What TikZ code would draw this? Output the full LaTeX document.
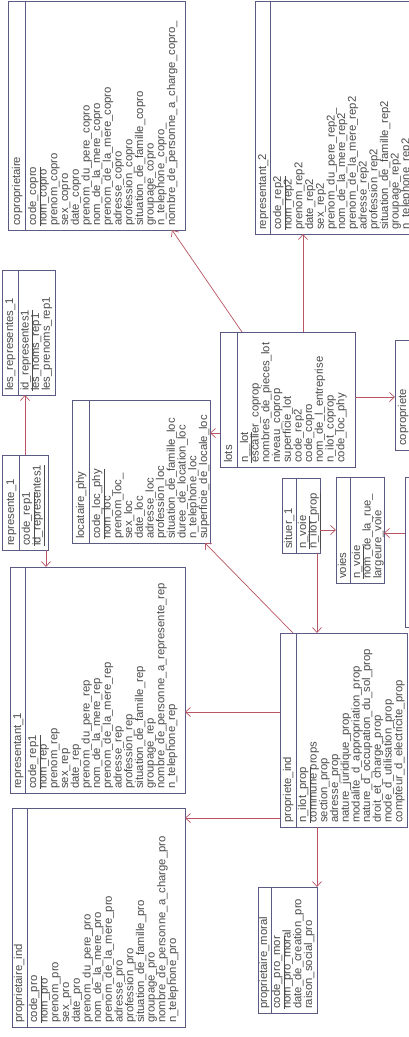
\documentclass[tikz,border=0pt]{standalone}
\usepackage{fontspec}
\setmainfont{Liberation Sans}
\usetikzlibrary{arrows.meta,calc}
\definecolor{boxline}{RGB}{90,90,130}
\definecolor{link}{RGB}{185,85,100}
\definecolor{txt}{RGB}{75,75,75}

\tikzset{
  cls/.style={draw=boxline, line width=0.8pt, fill=white, inner sep=0pt, outer sep=0pt},
  lbl/.style={rotate=90, anchor=base west, inner sep=0pt, text=txt,
              font=\fontsize{11.3}{12}\selectfont},
  rel/.style={draw=link, line width=0.7pt, -{Straight Barb[length=5pt,width=9pt]}},
}

% class frame: #1 name, #2 left, #3 top, #4 right, #5 bottom, #6 divider x, #7 title x, #8 title
\newcommand\classframe[8]{%
  \node[cls, minimum width={#4-#2}, minimum height={#5-#3}]
       (#1) at ({(#2+#4)/2},{(#3+#5)/2}) {};
  \draw[boxline, line width=0.8pt] (#6,#3) -- (#6,#5);
  \node[lbl] (#1-title) at ({#7+3},{#5-4}) {#8};
}
% attribute column: #1 name, #2 first x, #3 bottom, #4 list
\newcommand\attrlist[4]{%
  \foreach \a [count=\i from 0] in {#4} {
    \node[lbl] (#1-\i) at ({#2+3+\i*10.7},{#3-4}) {\a};
  }
}

\begin{document}
\begin{tikzpicture}[x=1pt,y=-1pt]
\fill[white] (0,0) rectangle (409,1037);
\useasboundingbox (0,0) rectangle (409,1037);
\clip (0,0) rectangle (409,1037);

% coproprietaire
\classframe{copro}{8}{1}{185}{230}{25}{17}{coproprietaire}
\attrlist{copro}{33}{230}{\underline{code\_copro}, nom\_copro, prenom\_copro, sex\_copro, date\_copro,
  prenom\_du\_pere\_copro, nom\_de\_la\_mere\_copro, prenom\_de\_la\_mere\_copro, adresse\_copro,
  profession\_copro, situation\_de\_famille\_copro, groupage\_copro, n\_telephone\_copro\_,
  nombre\_de\_personne\_a\_charge\_copro\_}

% representant_2
\classframe{rep2}{255}{1}{415}{234}{270}{263}{representant\_2}
\attrlist{rep2}{278}{234}{\underline{code\_rep2}, nom\_rep2, prenom\_rep2, date\_rep2, sex\_rep2,
  prenom\_du\_pere\_rep2\_, nom\_de\_la\_mere\_rep2, prenom\_de\_la\_mere\_rep2, adresse\_rep2,
  profession\_rep2, situation\_de\_famille\_rep2, groupage\_rep2, n\_telephone\_rep2}

% les_representes_1
\classframe{lesrep}{2}{270}{55}{395}{18}{10}{les\_representes\_1}
\attrlist{lesrep}{25.5}{395}{\underline{id\_representes1}, les\_noms\_rep1, les\_prenoms\_rep1}

% represente_1
\classframe{repr1}{2}{455}{48}{550}{19}{11}{represente\_1}
\attrlist{repr1}{27}{550}{\underline{code\_rep1}, \underline{id\_representes1}}

% locataire_phy
\classframe{loc}{72}{400}{210}{543}{89}{81}{locataire\_phy}
\attrlist{loc}{97}{543}{\underline{code\_loc\_phy}, nom\_loc\_, prenom\_loc\_, sex\_loc, date\_loc,
  adresse\_loc, profession\_loc, situation\_de\_famille\_loc, duree\_de\_location\_loc,
  n\_telephone\_loc, superficie\_de\_locale\_loc}

% lots
\classframe{lots}{220}{332}{355}{467}{237}{229}{lots}
\attrlist{lots}{245}{467}{\underline{n\_\_lot}, escalier\_coprop, nombres\_de\_pieces\_lot,
  niveau\_coprop, superficie\_lot, code\_rep2, code\_copro, nom\_de\_l\_entreprise,
  n\_ilot\_coprop, code\_loc\_phy}

% copropriete
\classframe{copte}{395}{340}{440}{450}{411}{403}{copropriete}

% situer_1
\classframe{situer}{282}{478}{320}{553}{296}{289}{situer\_1}
\attrlist{situer}{303}{553}{\underline{n\_voie}, \underline{n\_ilot\_prop}}

% voies
\classframe{voies}{336}{477}{384}{583}{350}{343}{voies}
\attrlist{voies}{357}{583}{\underline{n\_voie}, nom\_de\_la\_rue\_, largeure\_voie}

% class lying past the right edge
\node[cls, minimum width=70, minimum height=150] (edge) at (440,552) {};

% representant_1
\classframe{rep1}{10}{567}{185}{793}{25}{18}{representant\_1}
\attrlist{rep1}{33}{793}{\underline{code\_rep1}, nom\_rep, prenom\_rep, sex\_rep, date\_rep,
  prenom\_du\_pere\_rep, nom\_de\_la\_mere\_rep, prenom\_de\_la\_mere\_rep, adresse\_rep,
  profession\_rep, situation\_de\_famille\_rep, groupage\_rep,
  nombre\_de\_personne\_a\_represente\_rep, n\_telephone\_rep}

% propriete_ind
\classframe{propind}{280}{633}{407}{827}{296}{288}{propriete\_ind}
\attrlist{propind}{303}{827}{\underline{n\_ilot\_prop}, commune props, section\_prop, adresse\_prop,
  nature\_juridique\_prop, modalite\_d\_appropriation\_prop, nature\_d\_occupation\_du\_sol\_prop,
  droit\_et\_charge\_prop, mode\_d\_utilisation\_prop, compteur\_d\_electricite\_prop}

% proprietaire_ind
\classframe{proind}{12}{808}{185}{1027}{27}{19}{proprietaire\_ind}
\attrlist{proind}{34}{1027}{\underline{code\_pro}, nom\_pro, prenom\_pro, sex\_pro, date\_pro,
  prenom\_du\_pere\_pro, nom\_de\_la\_mere\_pro, prenom\_de\_la\_mere\_pro, adresse\_pro,
  profession\_pro, situation\_de\_famille\_pro, groupage\_pro,
  nombre\_de\_personne\_a\_charge\_pro, n\_telephone\_pro}

% proprietaire_moral
\classframe{promor}{258}{887}{317}{1013}{271}{264}{proprietaire\_moral}
\attrlist{promor}{277}{1013}{\underline{code\_pro\_mor}, nom\_pro\_moral, date\_de\_creation\_pro,
  raison\_social\_pro}

% relations
\draw[rel] ($(repr1.north west)+(23,0)$) -- ($(lesrep.south west)+(23,0)$);
\draw[rel] ($(repr1.south west)+(44,0)$) -- ($(rep1.north west)+(36,0)$);
\draw[rel] ($(lots.north west)+(22,0)$) -- ($(copro.south west)+(164,0)$);
\draw[rel] ($(lots.north west)+(83,0)$) -- ($(rep2.south west)+(48,0)$);
\draw[rel] ($(lots.north west)+(0,101)$) -- ($(loc.north east)+(0,33)$);
\draw[rel] ($(lots.north east)+(0,65)$) -- ($(copte.north west)+(0,57)$);
\draw[rel] ($(propind.north west)+(13,0)$) -- ($(loc.south east)+(-5,0)$);
\draw[rel] ($(propind.north west)+(0,79)$) -- ($(rep1.north east)+(0,145)$);
\draw[rel] ($(situer.south west)+(35,0)$) -- ($(propind.north west)+(37,0)$);
\draw[rel] ($(situer.north east)+(0,52)$) -- ($(voies.north west)+(0,53)$);
\draw[rel] ($(edge.north west)+(0,56)$) -- ($(voies.north east)+(0,56)$);
\draw[rel] ($(propind.south west)+(37,0)$) -- ($(promor.north east)$);
\draw[rel] ($(propind.south west)+(0,-9)$) -- ($(proind.north east)+(0,10)$);
\end{tikzpicture}
\end{document}
